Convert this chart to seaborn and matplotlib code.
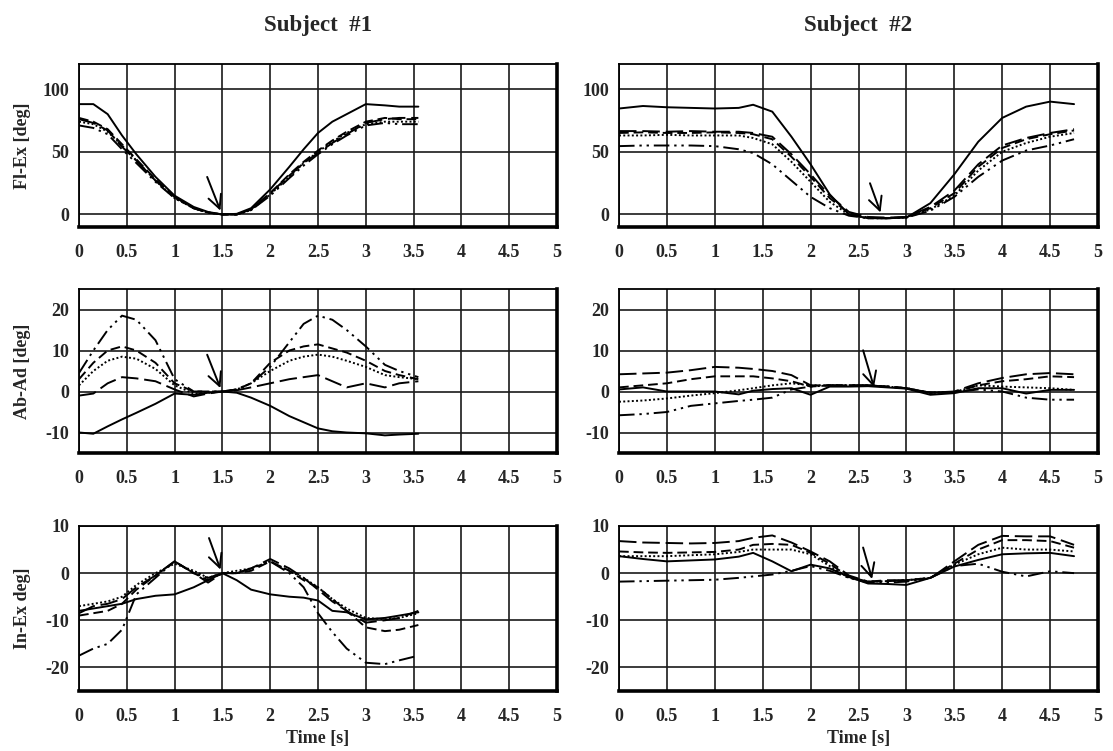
import pandas as pd
import seaborn as sns
import matplotlib.pyplot as plt

# time bases (s) for each subject
time_s1 = [0, 0.15, 0.3, 0.45, 0.6, 0.8, 1.0, 1.2, 1.35, 1.5, 1.65, 1.8, 2.0, 2.2, 2.35, 2.5, 2.65, 2.8, 3.0, 3.2, 3.35, 3.55]
time_s2 = [0, 0.25, 0.5, 0.75, 1.0, 1.25, 1.4, 1.6, 1.8, 2.0, 2.2, 2.4, 2.6, 2.8, 3.0, 3.25, 3.5, 3.75, 4.0, 4.25, 4.5, 4.75]

trials = ["solid", "dashed", "dotted", "longdash", "dashdotdot"]

# ---- Subject #1 ----
s1_flex = {
    "solid":      [88, 88, 80, 63, 48, 30, 15, 6, 2, 0, 0.5, 5, 20, 38, 52, 65, 74, 80, 88, 87, 86, 86],
    "dashed":     [77, 74, 68, 56, 44, 28, 14, 5, 1.5, 0, 0, 4, 17, 32, 42, 51, 59, 66, 74, 77, 76, 76],
    "dotted":     [74, 72, 66, 55, 43, 27, 13, 5, 1.5, 0, 0, 3.5, 16, 30, 41, 50, 58, 65, 72, 74, 74, 74],
    "longdash":   [76, 73, 67, 54, 43, 27, 14, 5, 1.5, 0, 0, 4, 17, 31, 41, 49, 57, 64, 73, 76, 77, 77],
    "dashdotdot": [71, 69, 64, 52, 41, 26, 13, 5, 1.5, 0, 0, 3.5, 15, 29, 39, 48, 56, 63, 71, 73, 72, 72],
}
s1_abad = {
    "solid":      [-10, -10.3, -8.5, -6.8, -5.2, -3, -0.5, -0.8, -0.3, 0, -0.3, -1.5, -3.5, -6, -7.5, -9, -9.7, -10, -10.2, -10.7, -10.5, -10.3],
    "dashed":     [3, 7, 10, 11, 10, 7, 2, 0, 0, 0, 0.5, 2, 7, 10, 11, 11.5, 10.5, 9.5, 7.5, 5, 4, 3],
    "dotted":     [1.5, 5, 7.5, 8.5, 8, 5.5, 1.5, -0.5, -0.3, 0, 0.5, 2, 5, 7.5, 8.5, 9, 8.5, 7.5, 6, 4, 3.5, 3],
    "longdash":   [-1, -0.5, 2, 3.5, 3.2, 2.5, 0.5, -1.2, -0.5, 0, 0.3, 1, 2, 3, 3.5, 4, 2.5, 1, 2, 1, 2, 2.5],
    "dashdotdot": [4.5, 10, 15, 18.5, 17.5, 12.5, 3, 0, 0, 0, 0.5, 2, 6, 12, 16.5, 18.5, 17.5, 15, 11, 6.5, 5, 3.5],
}
s1_inex = {
    "solid":      [-8, -7.5, -7, -6.5, -5.5, -4.8, -4.5, -3, -1.5, 0, -1.5, -3.5, -4.5, -5, -5.2, -5.8, -8, -8.3, -9.8, -9.5, -9, -8.3],
    "dashed":     [-9, -8.5, -8, -6.5, -3.5, -0.5, 2.5, 0, -1.5, 0, 0, 0.5, 2.5, 0.5, -1.5, -3, -5.5, -8, -11.5, -12.3, -12, -11],
    "dotted":     [-7, -6.5, -6, -5, -2.5, 0, 2, 0.5, -1, 0, 0.5, 1, 2.5, 0.5, -1, -3, -5.5, -7.5, -9.5, -9.8, -9.5, -8.5],
    "longdash":   [-8.5, -7, -6.5, -5.5, -3, -0.5, 2.5, 0, -2, 0, 0, 1, 3, 1, -1, -3.5, -6, -8, -10.5, -10, -9.5, -8],
    "dashdotdot": [-17.5, -16, -15, -12, -4.5, -1, 2.5, 0, -1, 0, 0, 1, 2.5, 0, -3, -8.5, -12.5, -16, -19, -19.3, -18.5, -17.5],
}

# ---- Subject #2 ----
s2_flex = {
    "solid":      [84.5, 86.5, 85.5, 85, 84.5, 85, 87.5, 82, 62, 40, 16, 0, -3, -3, -2.5, 9, 32, 58, 77, 86, 90, 88],
    "dashed":     [65, 65.5, 65, 65, 65.5, 65, 64, 60, 46, 30, 13, 1, -2.5, -3, -2, 5, 17, 38, 53, 60, 64, 67],
    "dotted":     [63, 63, 63.5, 63, 63, 63, 61, 56, 42, 26, 10, 0, -3, -3, -2.5, 4, 15, 35, 50, 57, 62, 65],
    "longdash":   [66.5, 66.5, 66, 66.5, 66, 66, 65, 62, 48, 32, 15, 2, -2, -2.5, -2, 6, 19, 40, 55, 61, 65, 68],
    "dashdotdot": [54.5, 55, 55, 55, 54.5, 52, 49, 40, 27, 14, 5, -1, -3, -3, -2.5, 3, 14, 30, 43, 51, 55, 60],
}
s2_abad = {
    "solid":      [0.5, 1, 0, 0, 0, -0.7, 0.2, 0.6, 0.8, -0.8, 1.2, 1.2, 1.3, 1, 0.7, -0.8, -0.4, 0.8, 0.8, -0.5, 0.4, 0.4],
    "dashed":     [1, 1.5, 2, 3, 3.7, 3.7, 3.7, 3.2, 2.5, 1.2, 1.5, 1.5, 1.5, 1.2, 0.8, -0.3, -0.2, 1.5, 2.5, 3, 3.7, 3.5],
    "dotted":     [-2.5, -2.2, -1.7, -1, -0.4, 0.3, 0.8, 1.5, 2, 1.5, 1.5, 1.5, 1.5, 1.2, 0.8, -0.3, -0.2, 1.5, 1.2, 1, 0.8, 0.4],
    "longdash":   [4.2, 4.4, 4.6, 5.2, 6, 5.8, 5.5, 5, 4, 1.5, 1.5, 1.5, 1.5, 1.2, 0.8, -0.3, 0, 2, 3.3, 4.2, 4.5, 4.2],
    "dashdotdot": [-5.8, -5.5, -5, -3.5, -2.9, -2.3, -2, -1.5, 0.5, 1.2, 1.5, 1.5, 1.5, 1.2, 0.8, -0.3, -0.2, 0.5, 0, -1.5, -2, -2],
}
s2_inex = {
    "solid":      [3.6, 3, 2.5, 2.7, 2.9, 3.5, 4.3, 2.5, 0.4, 1.8, 1, -0.8, -2.2, -2.3, -2.5, -1, 1.4, 2.8, 4, 4.2, 4.3, 3.6],
    "dashed":     [4.6, 4.4, 4.3, 4.4, 4.5, 5, 6, 6.2, 6, 4.3, 2, -0.8, -1.8, -1.7, -1.5, -1, 2, 5, 7, 7, 6.8, 5.4],
    "dotted":     [3.6, 3.6, 3.6, 3.8, 4, 4.5, 5, 5, 5, 4, 1.5, -1, -1.8, -1.7, -1.5, -1, 1.8, 4, 5.4, 5, 5, 4.6],
    "longdash":   [6.8, 6.5, 6.4, 6.3, 6.4, 6.8, 7.5, 8, 6.5, 4.6, 2.5, -0.5, -1.8, -1.5, -1.5, -1.1, 2.5, 6, 7.9, 7.8, 7.8, 6],
    "dashdotdot": [-1.8, -1.7, -1.6, -1.5, -1.4, -1, -0.7, -0.3, 0.5, 1.5, 0.5, -1, -2, -2, -1.8, -1, 1.5, 2, 0.3, -0.7, 0.4, 0],
}

# arrows (tail -> tip) in data units, one per panel
arrows_s1 = [((1.33, 32), (1.49, 1)), ((1.33, 9.6), (1.49, 0.2)), ((1.35, 8), (1.49, 0.2))]
arrows_s2 = [((2.61, 27), (2.74, -0.5)), ((2.54, 10.7), (2.67, 0.4)), ((2.54, 6), (2.65, -1.8))]

row_labels = ["Fl-Ex [deg]", "Ab-Ad [deg]", "In-Ex deg]"]
row_ylim = [(-10, 120), (-15, 25), (-25, 10)]
row_yticks = [[0, 50, 100], [-10, 0, 10, 20], [-20, -10, 0, 10]]
xticks = [0, 0.5, 1, 1.5, 2, 2.5, 3, 3.5, 4, 4.5, 5]
xtick_labels = ["0", "0.5", "1", "1.5", "2", "2.5", "3", "3.5", "4", "4.5", "5"]
titles = ["Subject  #1", "Subject  #2"]

dash_map = {
    "solid": "",
    "dashed": (5, 2.5),
    "dotted": (1, 1.2),
    "longdash": (9, 3),
    "dashdotdot": (8, 2.5, 1.2, 2.5, 1.2, 2.5),
}

sns.set_style("white")
plt.rcParams["font.family"] = ["Liberation Serif", "DejaVu Serif"]
plt.rcParams["font.weight"] = "bold"
plt.rcParams["axes.unicode_minus"] = False


def to_long(time, series):
    rows = []
    for name in trials:
        for t, v in zip(time, series[name]):
            rows.append({"t": t, "v": v, "trial": name})
    return pd.DataFrame(rows)


fig = plt.figure(figsize=(11.13, 7.51), dpi=100)

col_x = [79 / 1113, 619 / 1113]
col_w = [478 / 1113, 479 / 1113]
row_top = [64, 289, 526]
row_bot = [227, 453, 691]

subjects = [
    (time_s1, [s1_flex, s1_abad, s1_inex], arrows_s1),
    (time_s2, [s2_flex, s2_abad, s2_inex], arrows_s2),
]

for c, (time, panels, arrows) in enumerate(subjects):
    for r in range(3):
        ax = fig.add_axes([col_x[c], 1 - row_bot[r] / 751, col_w[c], (row_bot[r] - row_top[r]) / 751])
        df = to_long(time, panels[r])
        sns.lineplot(data=df, x="t", y="v", style="trial", dashes=dash_map,
                     color="black", lw=1.4, ax=ax, legend=False,
                     estimator=None, sort=False)
        ax.set_xlim(0, 5)
        ax.set_ylim(*row_ylim[r])
        ax.set_xticks(xticks)
        ax.set_xticklabels(xtick_labels)
        ax.set_yticks(row_yticks[r])
        ax.grid(True, color="#1a1a1a", lw=1.2)
        ax.set_axisbelow(True)
        ax.tick_params(axis="x", length=0, labelsize=13, pad=12)
        ax.tick_params(axis="y", length=0, labelsize=13, pad=7)
        for lab in ax.get_xticklabels() + ax.get_yticklabels():
            lab.set_fontweight("bold")
        for side in ["top", "left"]:
            ax.spines[side].set_linewidth(1.3)
            ax.spines[side].set_color("black")
        for side in ["bottom", "right"]:
            ax.spines[side].set_linewidth(2.6)
            ax.spines[side].set_color("black")
        (tx, ty), (hx, hy) = arrows[r]
        ax.annotate("", xy=(hx, hy), xytext=(tx, ty),
                    arrowprops=dict(arrowstyle="->", lw=1.4, color="black",
                                    mutation_scale=24))
        if c == 0:
            ax.set_ylabel(row_labels[r], fontsize=13, fontweight="bold")
            ax.yaxis.set_label_coords(-0.10, 0.5)
        else:
            ax.set_ylabel("")
        if r == 2:
            ax.set_xlabel("Time [s]", fontsize=13, fontweight="bold", labelpad=4)
        else:
            ax.set_xlabel("")
        if r == 0:
            ax.set_title(titles[c], fontsize=16.5, fontweight="bold", pad=24)

fig.savefig("out.png", dpi=100)
